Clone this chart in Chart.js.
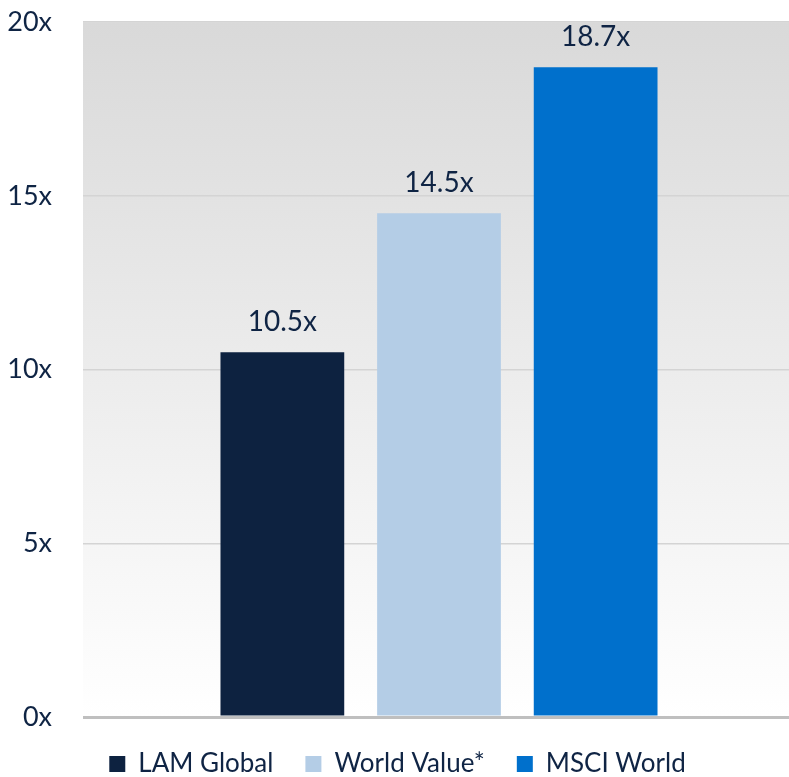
<!DOCTYPE html>
<html>
<head>
<meta charset="utf-8">
<script src="https://cdn.jsdelivr.net/npm/chart.js@4/dist/chart.umd.min.js"></script>
<style>
  html, body { margin: 0; padding: 0; background: #fff; overflow: hidden; }
  #wrap { position: relative; width: 789px; height: 777px; overflow: hidden; }
  #peChart { position: absolute; left: 0; top: -25px; }
</style>
</head>
<body>
<div id="wrap"><canvas id="peChart" width="795" height="812"></canvas></div>
<script>
const categories = ['P/E'];
const seriesNames = ['LAM Global', 'World Value*', 'MSCI World'];
const lamGlobal = [10.5];
const worldValue = [14.5];
const msciWorld = [18.7];
const yTicks = [0, 5, 10, 15, 20];

const textColor = '#0f2444';
const fontFamily = 'Lato, "Open Sans", sans-serif';

// gray-to-white gradient behind the plot
const bgGradient = {
    id: 'bgGradient',
    beforeDraw(chart) {
        const { ctx, chartArea: a } = chart;
        const g = ctx.createLinearGradient(0, a.top, 0, a.bottom);
        g.addColorStop(0, '#d9d9d9');
        g.addColorStop(1, '#ffffff');
        ctx.save();
        ctx.fillStyle = g;
        ctx.fillRect(a.left, a.top, a.right - a.left, a.bottom - a.top);
        ctx.restore();
    }
};

// value labels above the bars
const barLabels = {
    id: 'barLabels',
    afterDatasetsDraw(chart) {
        const ctx = chart.ctx;
        ctx.save();
        ctx.font = '28px ' + fontFamily;
        ctx.fillStyle = textColor;
        ctx.textAlign = 'center';
        ctx.textBaseline = 'bottom';
        chart.data.datasets.forEach((ds, i) => {
            chart.getDatasetMeta(i).data.forEach((bar, j) => {
                ctx.fillText(ds.data[j].toFixed(1) + 'x', bar.x, bar.y - 16);
            });
        });
        ctx.restore();
    }
};

new Chart(document.getElementById('peChart').getContext('2d'), {
    type: 'bar',
    data: {
        labels: categories,
        datasets: [
            { label: seriesNames[0], data: lamGlobal, backgroundColor: '#0d2240' },
            { label: seriesNames[1], data: worldValue, backgroundColor: '#b4cde6' },
            { label: seriesNames[2], data: msciWorld, backgroundColor: '#0070cc' }
        ]
    },
    options: {
        responsive: false,
        animation: false,
        layout: { padding: { top: 19, right: 0, left: 0, bottom: 0 } },
        datasets: { bar: { categoryPercentage: 0.66, barPercentage: 0.79 } },
        scales: {
            x: {
                display: true,
                afterFit(scale) { scale.height = 2; },
                border: { display: false },
                grid: { display: false },
                ticks: { display: false }
            },
            y: {
                min: 0,
                max: 20,
                afterFit(scale) { scale.width = 83; },
                afterBuildTicks(scale) { scale.ticks = yTicks.map(v => ({ value: v })); },
                border: { display: false },
                grid: {
                    drawTicks: false,
                    color: ctx => ctx.tick.value === 0 ? '#bfbfbf' : '#d4d4d4',
                    lineWidth: ctx => ctx.tick.value === 0 ? 3 : 1.5
                },
                ticks: {
                    padding: 31,
                    color: textColor,
                    font: { family: fontFamily, size: 27 },
                    callback: v => v + 'x'
                }
            }
        },
        plugins: {
            tooltip: { enabled: false },
            legend: {
                position: 'bottom',
                labels: {
                    boxWidth: 16,
                    boxHeight: 16,
                    padding: 32,
                    color: textColor,
                    font: { family: fontFamily, size: 26 }
                }
            }
        }
    },
    plugins: [bgGradient, barLabels]
});
</script>
</body>
</html>
